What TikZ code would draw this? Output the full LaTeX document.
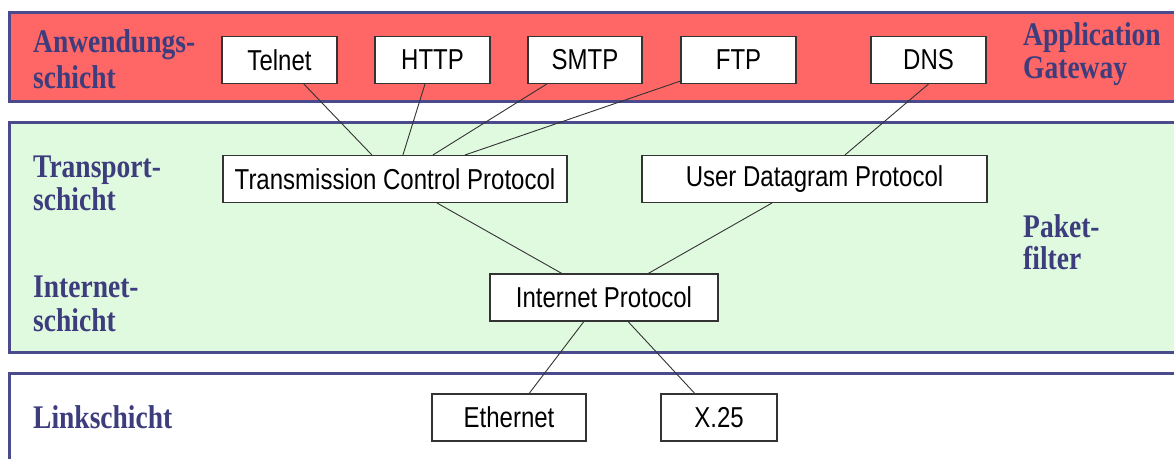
\documentclass[tikz,border=0pt]{standalone}
\usepackage{fontspec}
\usepackage{graphicx}
\setmainfont{Liberation Serif}
\newfontfamily\boxfont{Liberation Sans}
\usetikzlibrary{calc}

\definecolor{bandline}{HTML}{4A4A8C}
\definecolor{labelblue}{HTML}{3D3D7D}
\definecolor{appred}{HTML}{FF6666}
\definecolor{netgreen}{HTML}{E0FAE0}
\definecolor{boxline}{HTML}{333333}

% slightly tall lettering
\newcommand\tall[1]{\scalebox{1}[1.2]{#1}}

\tikzset{
  band/.style={draw=bandline, line width=3pt},
  layer/.style={text=labelblue, font=\fontsize{27.5}{33}\selectfont\bfseries,
                anchor=base west, inner sep=0pt},
  proto/.style={draw=boxline, fill=white, line width=1.1pt, inner sep=0pt,
                font=\boxfont\fontsize{24}{28}\selectfont, minimum height=47pt},
  link/.style={draw=black!80, line width=0.9pt}
}

\begin{document}
\begin{tikzpicture}[x=1pt, y=-1pt]
\useasboundingbox (0,0) rectangle (1174,458);
\clip (0,0) rectangle (1174,458);
\fill[white] (0,0) rectangle (1174,458);

% layer bands
\draw[band, fill=appred]   (9,12)  rectangle (1185,101);
\draw[band, fill=netgreen] (9,122) rectangle (1185,352);
\draw[band, fill=white]    (9,373) rectangle (1185,470);

% layer names
\node[layer] (lapp1) at (33,52)  {\tall{Anwendungs-}};
\node[layer] (lapp2) at (33,88)  {\tall{schicht}};
\node[layer] (ltr1)  at (33,177) {\tall{Transport-}};
\node[layer] (ltr2)  at (33,210) {\tall{schicht}};
\node[layer] (lin1)  at (33,297) {\tall{Internet-}};
\node[layer] (lin2)  at (33,331) {\tall{schicht}};
\node[layer] (llink) at (33,428) {\tall{Linkschicht}};
\node[layer] (rgw1)  at (1023,45)  {\tall{Application}};
\node[layer] (rgw2)  at (1023,78)  {\tall{Gateway}};
\node[layer] (rpf1)  at (1023,237) {\tall{Paket-}};
\node[layer] (rpf2)  at (1023,269) {\tall{filter}};

% protocol boxes
\node[proto, minimum width=115pt] (telnet) at (279.5,60) {\tall{Telnet}};
\node[proto, minimum width=115pt] (http)   at (432.5,60) {\tall{HTTP}};
\node[proto, minimum width=114pt] (smtp)   at (585,60)   {\tall{SMTP}};
\node[proto, minimum width=115pt] (ftp)    at (738.5,60) {\tall{FTP}};
\node[proto, minimum width=115pt] (dns)    at (928.5,60) {\tall{DNS}};
\node[proto, minimum width=344pt] (tcp)    at (395,179)  {\tall{Transmission Control Protocol}};
\node[proto, minimum width=345pt] (udp)    at (814.5,179) {\tall{User Datagram Protocol}};
\node[proto, minimum width=228pt] (ip)     at (604,297.5) {\tall{Internet Protocol}};
\node[proto, minimum width=154pt] (eth)    at (509,417.5) {\tall{Ethernet}};
\node[proto, minimum width=116pt] (x25)    at (719,417.5) {\tall{X.25}};

% connectors between the protocol boxes
\path[link]
  ($(telnet.south west)!0.71!(telnet.south east)$) -- ($(tcp.north west)!0.433!(tcp.north east)$)
  ($(http.south west)!0.435!(http.south east)$)    -- ($(tcp.north west)!0.523!(tcp.north east)$)
  ($(smtp.south west)!0.167!(smtp.south east)$)    -- ($(tcp.north west)!0.61!(tcp.north east)$)
  ($(ftp.south west)+(0,-3)$)                      -- ($(tcp.north west)!0.703!(tcp.north east)$)
  (dns.south)                                      -- ($(udp.north west)!0.588!(udp.north east)$)
  ($(tcp.south west)!0.622!(tcp.south east)$)      -- ($(ip.north west)!0.316!(ip.north east)$)
  ($(udp.south west)!0.377!(udp.south east)$)      -- ($(ip.north west)!0.693!(ip.north east)$)
  ($(ip.south west)!0.412!(ip.south east)$)        -- ($(eth.north west)!0.63!(eth.north east)$)
  ($(ip.south west)!0.605!(ip.south east)$)        -- ($(x25.north west)!0.293!(x25.north east)$);
\end{tikzpicture}
\end{document}
